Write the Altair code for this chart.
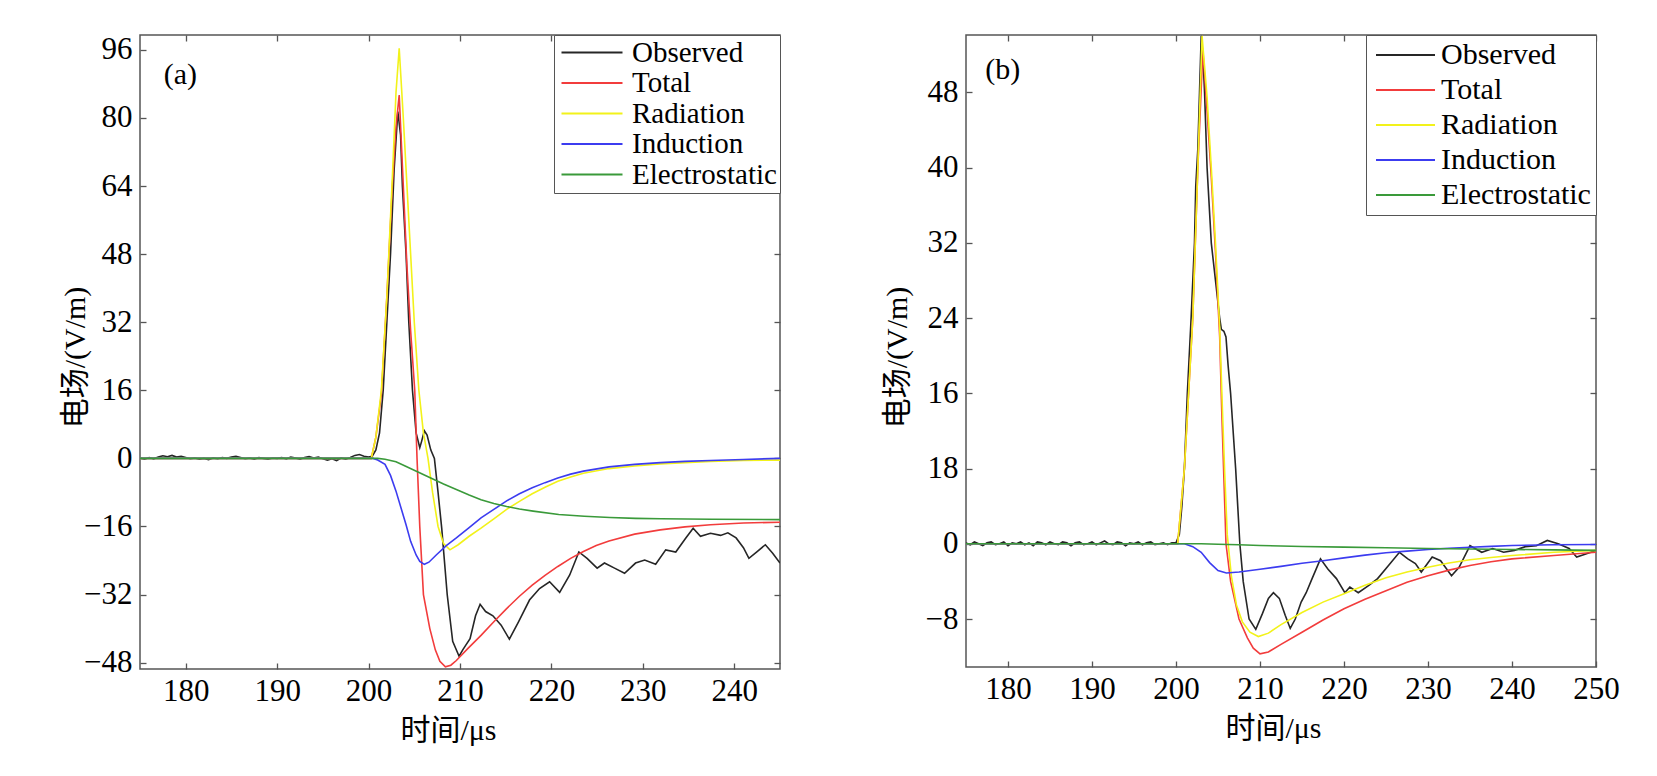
import altair as alt
import pandas as pd

SERIES = ["Observed", "Total", "Radiation", "Induction", "Electrostatic"]
COLORS = ["#262626", "#f23c3c", "#f2f21a", "#3c3cf0", "#3a9a3a"]

# baseline sample times (both panels)
BASE_T = [175.0, 175.5, 176.0, 176.5, 177.0, 177.5, 178.0, 178.5, 179.0, 179.5,
          180.0, 180.5, 181.0, 181.5, 182.0, 182.5, 183.0, 183.5, 184.0, 184.5,
          185.0, 185.5, 186.0, 186.5, 187.0, 187.5, 188.0, 188.5, 189.0, 189.5,
          190.0, 190.5, 191.0, 191.5, 192.0, 192.5, 193.0, 193.5, 194.0, 194.5,
          195.0, 195.5, 196.0, 196.5, 197.0, 197.5, 198.0, 198.5, 199.0, 199.5,
          200.0]

# ---------------- panel (a) ----------------
A_OBS_BASE = [0.1, -0.2, 0.2, -0.1, 0.3, 0.6, 0.4, 0.7, 0.3, 0.5,
              0.2, -0.1, 0.1, -0.2, 0.0, -0.3, 0.1, -0.1, 0.2, 0.0,
              0.3, 0.5, 0.2, -0.1, 0.1, -0.2, 0.2, 0.0, -0.2, 0.1,
              0.0, 0.2, -0.1, 0.3, 0.1, -0.2, 0.2, 0.4, 0.1, 0.3,
              -0.1, -0.4, -0.1, -0.5, 0.1, -0.2, 0.2, 0.7, 0.9, 0.5,
              0.3]
A_OBS_T = [200.4, 200.8, 201.2, 201.6, 202.0, 202.4, 202.8, 203.2, 203.5, 203.7,
           204.1, 204.4, 204.8, 205.2, 205.6, 205.8, 206.1, 206.4, 206.8, 207.2,
           207.6, 208.0, 208.6, 209.2, 209.9, 210.3, 210.6, 211.1, 211.7, 212.2,
           212.8, 213.6, 214.5, 215.4, 216.4, 217.6, 218.7, 219.8, 220.9, 222.0,
           223.0, 223.9, 225.0, 225.8, 226.9, 228.0, 229.2, 230.2, 231.4, 232.5,
           233.6, 234.7, 235.5, 236.3, 237.4, 238.5, 239.3, 240.2, 241.0, 241.6,
           242.5, 243.4, 244.2, 245.0]
A_OBS_V = [0.5, 2, 6, 16, 32, 48, 68, 81.5, 76, 64,
           48, 32, 16, 6, 2.5, 4, 6.5, 5.5, 2, 0,
           -8, -16.4, -32, -43, -46.5, -45, -44, -42.4, -37, -34.3,
           -36, -37, -39.2, -42.5, -38.4, -33.3, -30.6, -29, -31.5, -27.4,
           -22, -23.5, -25.8, -24.6, -25.8, -27, -24.6, -23.9, -24.9, -21.5,
           -22, -18.7, -16.4, -18.3, -17.6, -18.1, -17.5, -18.7, -21, -23.5,
           -21.9, -20.3, -22.3, -24.6]

A_TOT_T = [175, 200.3, 200.8, 201.4, 202.0, 202.6, 203.0, 203.35, 203.8, 204.2,
           204.6, 205.05, 205.3, 205.6, 206.0, 206.7, 207.3, 207.8, 208.4, 209.0,
           209.6, 210.9, 212.3, 213.7, 215.1, 216.5, 217.9, 219.3, 220.7, 222.1,
           223.5, 224.9, 226.3, 229.1, 231.9, 234.6, 237.4, 241, 245]
A_TOT_V = [0, 0, 5, 15, 38, 64, 78, 85.4, 64, 45,
           30, 16, 0, -16, -32, -40, -45, -47.7, -49, -48.6,
           -47.5, -44.6, -41.6, -38.4, -35.3, -32.4, -29.8, -27.5, -25.4, -23.5,
           -21.9, -20.5, -19.4, -17.8, -16.8, -16.1, -15.6, -15.2, -15]

A_RAD_T = [175, 200.3, 200.8, 201.4, 202.0, 202.6, 203.0, 203.35, 203.8, 204.2,
           204.6, 205.0, 205.5, 206.0, 206.5, 207.0, 207.6, 208.2, 208.9, 209.8,
           211.0, 212.3, 213.7, 215.1, 216.5, 217.9, 219.3, 220.7, 222.1, 223.5,
           226.3, 229.1, 231.9, 234.6, 237.4, 241, 245]
A_RAD_V = [0, 0, 5, 16, 38, 66, 86, 96.4, 80, 64,
           48, 32, 16, 6, 0, -8, -16, -20, -21.5, -20.3,
           -18.3, -16.4, -14.2, -12, -10.1, -8.3, -6.8, -5.4, -4.4, -3.5,
           -2.4, -1.8, -1.3, -1.0, -0.7, -0.5, -0.4]

A_IND_T = [175, 200.5, 201.0, 201.8, 202.4, 203.0, 203.6, 204.1, 204.6, 205.2,
           205.6, 206.1, 206.6, 207.4, 208.5, 209.6, 211.0, 212.3, 213.7, 215.1,
           216.5, 217.9, 219.3, 220.7, 222.1, 223.5, 226.3, 229.1, 231.9, 234.6,
           237.4, 241, 245]
A_IND_V = [0, 0, -0.4, -1.4, -4, -7.7, -12, -15.6, -19.5, -22.7,
           -24.2, -24.9, -24.4, -22.7, -20.5, -18.7, -16.3, -14, -12, -10,
           -8.3, -6.9, -5.7, -4.6, -3.7, -3, -2, -1.4, -1, -0.7,
           -0.5, -0.25, 0]

A_ELE_T = [175, 201.0, 201.8, 203.0, 204.0, 205.4, 206.8, 208.2, 209.6, 211.0,
           212.3, 213.7, 215.1, 216.5, 218.0, 220.8, 223.6, 226.4, 229.2, 232.0,
           237.5, 245]
A_ELE_V = [0, 0, -0.2, -0.8, -1.8, -3.2, -4.6, -6, -7.3, -8.6,
           -9.7, -10.6, -11.3, -11.9, -12.4, -13.2, -13.6, -13.9, -14.1, -14.2,
           -14.3, -14.4]

# ---------------- panel (b) ----------------
B_OBS_BASE = [0.1, -0.1, 0.2, 0.0, -0.2, 0.1, 0.2, -0.1, 0.0, 0.2,
              -0.2, 0.1, 0.0, 0.2, -0.1, 0.1, -0.2, 0.2, 0.1, -0.1,
              0.2, 0.0, -0.1, 0.2, 0.1, -0.2, 0.1, 0.2, -0.1, 0.0,
              0.2, -0.1, 0.1, 0.3, 0.0, -0.1, 0.2, 0.1, -0.2, 0.1,
              0.0, 0.2, -0.1, 0.1, 0.2, -0.1, 0.0, 0.1, -0.1, 0.1,
              0.1]
B_OBS_T = [200.4, 200.7, 201.0, 201.35, 201.8, 202.2, 202.35, 202.6, 202.8, 203.0,
           203.2, 203.4, 203.7, 204.2, 204.7, 205.2, 205.4, 205.7, 205.95, 206.2,
           206.5, 207.1, 207.6, 208.0, 208.7, 209.5, 210.3, 211.0, 211.6, 212.3,
           213.0, 213.6, 214.2, 214.9, 215.5, 216.2, 217.2, 218.1, 219.1, 220.1,
           220.7, 221.7, 223.0, 224.0, 225.3, 226.6, 227.6, 228.5, 229.2, 230.5,
           231.5, 232.8, 233.7, 235.0, 236.4, 237.7, 239.0, 240.3, 241.6, 242.9,
           244.2, 245.5, 246.8, 247.7, 248.7, 250.0]
B_OBS_V = [1, 4, 8, 16, 24, 32, 38, 42, 48, 54,
           52, 48, 40, 32, 28, 24, 22.8, 22.6, 22, 19,
           16, 8, 0, -4, -8, -9.1, -7.4, -5.8, -5.2, -5.8,
           -7.6, -9.0, -8.0, -6.2, -5.2, -3.7, -1.6, -2.7, -3.7, -5.2,
           -4.6, -5.2, -4.4, -3.7, -2.3, -0.9, -1.6, -2.1, -3.0, -1.4,
           -1.8, -3.4, -2.5, -0.2, -0.9, -0.5, -0.9, -0.7, -0.3, -0.2,
           0.36, 0.0, -0.5, -1.4, -1.1, -0.7]

B_TOT_T = [175, 200.2, 201.0, 201.5, 202.0, 202.6, 203.2, 203.7, 204.2, 204.7,
           205.2, 205.45, 205.7, 205.95, 206.5, 207.5, 208.5, 209.2, 210.0, 211.0,
           212.5, 215.0, 217.5, 220.0, 222.5, 225.0, 227.5, 230.0, 232.5, 235.0,
           237.5, 240.0, 245.0, 250.0]
B_TOT_V = [0, 0, 8, 16, 24, 40, 52.5, 46, 39, 31,
           22, 14, 7, 0, -4, -8, -10, -11.1, -11.7, -11.5,
           -10.7, -9.4, -8.1, -6.9, -5.9, -5.0, -4.1, -3.4, -2.8, -2.3,
           -1.9, -1.6, -1.25, -0.9]

B_RAD_T = [175, 200.2, 201.0, 201.5, 202.0, 202.6, 203.1, 203.7, 204.2, 204.7,
           205.2, 205.5, 205.8, 206.1, 206.6, 207.2, 207.9, 208.8, 209.8, 211.0,
           212.5, 215.0, 217.5, 220.0, 222.5, 225.0, 227.5, 230.0, 232.5, 235.0,
           237.5, 240.0, 245.0, 250.0]
B_RAD_V = [0, 0, 8, 16, 24, 40, 54, 47.5, 40, 32,
           23, 15, 7.5, 1, -3.5, -6.5, -8.3, -9.4, -9.86, -9.5,
           -8.6, -7.3, -6.2, -5.3, -4.4, -3.6, -3.0, -2.5, -2.05, -1.7,
           -1.45, -1.25, -0.9, -0.7]

B_IND_T = [175, 201.0, 202.0, 203.0, 204.0, 205.0, 206.0, 207.5, 210.0, 212.5,
           215.0, 217.5, 220.0, 222.5, 225.0, 227.5, 230.0, 232.5, 235.0, 237.5,
           240.0, 245.0, 250.0]
B_IND_V = [0, 0, -0.3, -0.9, -2.0, -2.85, -3.1, -3.0, -2.7, -2.4,
           -2.06, -1.8, -1.5, -1.2, -0.96, -0.78, -0.6, -0.48, -0.36, -0.27,
           -0.18, -0.1, -0.07]

B_ELE_T = [175, 203, 205, 207.5, 210, 215, 220, 225, 230, 235, 240, 245, 250]
B_ELE_V = [0, 0, -0.05, -0.1, -0.18, -0.28, -0.35, -0.42, -0.5, -0.55, -0.6, -0.65, -0.7]

A_XTICKS = [180, 190, 200, 210, 220, 230, 240]
A_YTICKS = [-48, -32, -16, 0, 16, 32, 48, 64, 80, 96]
B_XTICKS = [180, 190, 200, 210, 220, 230, 240, 250]
B_YTICKS = [-8, 0, 8, 16, 24, 32, 40, 48]

SERIF = "Liberation Serif"
TITLE_FONT = "Liberation Serif, Noto Sans CJK SC"

AXIS_STYLE = dict(domain=False, grid=False, ticks=True, tickSize=6, tickColor="#555",
                  tickWidth=1.3, offset=-6, labelFont=SERIF, labelFontSize=31,
                  labelColor="black", labelFlush=False, labelOverlap=False)
TITLE_STYLE = dict(titleFont=TITLE_FONT, titleFontSize=30, titleFontWeight="normal",
                   titleColor="black")


def panel_df(parts):
    rows = []
    for name, ts, vs in parts:
        for t, v in zip(ts, vs):
            rows.append({"series": name, "t": t, "v": v})
    return pd.DataFrame(rows)


def make_panel(df, xdom, ydom, xticks, yticks, w, h, lab, lab_pos,
               leg, ytitle_x, ytitle_y, xtitle_x, label_expr=None):
    xs = alt.Scale(domain=xdom, nice=False, zero=False)
    ys = alt.Scale(domain=ydom, nice=False, zero=False)
    yaxis_kw = dict(values=yticks, title="电场/(V/m)", orient="left",
                    labelPadding=8, titleX=ytitle_x, titleY=ytitle_y,
                    **AXIS_STYLE, **TITLE_STYLE)
    if label_expr:
        yaxis_kw["labelExpr"] = label_expr
    lines = alt.Chart(df).mark_line(strokeWidth=1.6, clip=True).encode(
        x=alt.X("t:Q", scale=xs,
                axis=alt.Axis(values=xticks, title="时间/μs", orient="bottom",
                              labelPadding=7, titleX=xtitle_x, titleY=52,
                              **AXIS_STYLE, **TITLE_STYLE)),
        y=alt.Y("v:Q", scale=ys, axis=alt.Axis(**yaxis_kw)),
        color=alt.Color("series:N", sort=SERIES,
                        scale=alt.Scale(domain=SERIES, range=COLORS),
                        legend=alt.Legend(title=None, orient="top-right", offset=0,
                                          symbolType=leg["path"], symbolSize=400,
                                          symbolStrokeWidth=2,
                                          labelFont=SERIF, labelFontSize=leg["font"],
                                          labelColor="black", labelOffset=leg["loff"],
                                          labelLimit=0, rowPadding=leg["rowpad"],
                                          padding=leg["pad"], strokeColor="#555",
                                          fillColor="white")),
    )
    lab_df = pd.DataFrame({"t": [lab_pos[0]], "v": [lab_pos[1]], "s": [lab]})
    label = alt.Chart(lab_df).mark_text(align="left", baseline="middle",
                                        font=SERIF, fontSize=30, color="black").encode(
        x=alt.X("t:Q", scale=xs, axis=None),
        y=alt.Y("v:Q", scale=ys, axis=None),
        text="s:N",
    )
    ghost = alt.Chart(df).mark_line(opacity=0).encode(
        x=alt.X("t:Q", scale=xs, axis=alt.Axis(orient="top", labels=False,
                                               title=None, values=xticks,
                                               **AXIS_STYLE)),
        y=alt.Y("v:Q", scale=ys, axis=alt.Axis(orient="right", labels=False,
                                               title=None, values=yticks,
                                               **AXIS_STYLE)),
    )
    return alt.layer(lines, label, ghost).resolve_axis(
        x="independent", y="independent").properties(width=w, height=h)


df_a = panel_df([
    ("Observed", BASE_T + A_OBS_T, A_OBS_BASE + A_OBS_V),
    ("Total", A_TOT_T, A_TOT_V),
    ("Radiation", A_RAD_T, A_RAD_V),
    ("Induction", A_IND_T, A_IND_V),
    ("Electrostatic", A_ELE_T, A_ELE_V),
])
df_b = panel_df([
    ("Observed", BASE_T + B_OBS_T, B_OBS_BASE + B_OBS_V),
    ("Total", B_TOT_T, B_TOT_V),
    ("Radiation", B_RAD_T, B_RAD_V),
    ("Induction", B_IND_T, B_IND_V),
    ("Electrostatic", B_ELE_T, B_ELE_V),
])

LEG_A = {"path": "M-1,0H5.1", "font": 29, "loff": 46, "rowpad": 0.5, "pad": 3}
LEG_B = {"path": "M-1,0H4.9", "font": 30, "loff": 40, "rowpad": 5, "pad": 5}

pa = make_panel(df_a, [175, 245], [-49.5, 99.5], A_XTICKS, A_YTICKS, 640, 634,
                "(a)", (177.6, 90.1), LEG_A, -56, 322, 308)
pb = make_panel(df_b, [175, 250], [-13.1, 54.1], B_XTICKS, B_YTICKS, 630, 632,
                "(b)", (177.3, 50.4), LEG_B, -60, 322, 307,
                label_expr="datum.value == 8 ? '18' : datum.label")

chart = alt.hconcat(pa, pb, spacing=99).resolve_legend(color="independent").properties(
    padding={"left": 51, "top": 25, "right": 5, "bottom": 5}
).configure_view(stroke="#555", strokeWidth=1.5).configure_axis(
    labelFont=SERIF, titleFont=TITLE_FONT,
)

chart.save("out.html", embed_options={"renderer": "svg", "actions": False})
